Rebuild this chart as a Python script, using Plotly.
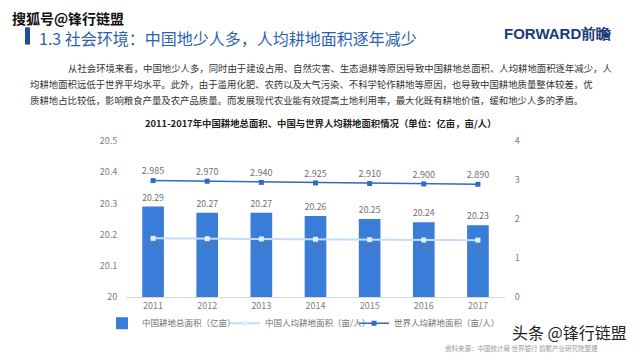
import plotly.graph_objects as go

years = ["2011", "2012", "2013", "2014", "2015", "2016", "2017"]
total_area = [20.29, 20.27, 20.27, 20.26, 20.25, 20.24, 20.23]
china_pc = [1.506, 1.497, 1.490, 1.482, 1.473, 1.463, 1.460]
world_pc = [2.985, 2.970, 2.940, 2.925, 2.910, 2.900, 2.890]

left_ticks = [20, 20.1, 20.2, 20.3, 20.4, 20.5]
right_ticks = [0, 1, 2, 3, 4]

FONT = "Noto Sans CJK SC"
BAR_C = "#3A7DD8"
WORLD_C = "#2E6BC4"
CHINA_C = "#C4DCF6"

fig = go.Figure()
fig.add_trace(go.Bar(
    x=years, y=total_area, name="中国耕地总面积（亿亩）",
    marker=dict(color=BAR_C, line=dict(width=0)), width=0.4,
    text=[f"{v:.2f}" for v in total_area], textposition="outside",
    textfont=dict(size=9, color="#707070", family=FONT), cliponaxis=False,
    legendwidth=78,
))
fig.add_trace(go.Scatter(
    x=years, y=china_pc, name="中国人均耕地面积（亩/人）", yaxis="y2",
    mode="lines+markers+text", line=dict(color=CHINA_C, width=2),
    marker=dict(symbol="square", size=5, color="#E4EFFB"),
    text=[f"{v:.3f}" for v in china_pc], textposition="bottom center",
    textfont=dict(size=8, color="#5A78AA", family=FONT), cliponaxis=False,
    legendwidth=84,
))
fig.add_trace(go.Scatter(
    x=years, y=world_pc, name="世界人均耕地面积（亩/人）", yaxis="y2",
    mode="lines+markers+text", line=dict(color=WORLD_C, width=1.5),
    marker=dict(symbol="square", size=5, color=WORLD_C),
    text=[f"{v:.3f}" for v in world_pc], textposition="top center",
    textfont=dict(size=9, color="#707070", family=FONT), cliponaxis=False,
))

fig.update_layout(
    width=640, height=360,
    margin=dict(l=0, r=0, t=0, b=0),
    paper_bgcolor="white", plot_bgcolor="white",
    font=dict(family=FONT, color="#555"),
    xaxis=dict(domain=[126/640, 505/640], showgrid=False, showline=True,
               linecolor="#D9D9D9", linewidth=1, ticks="",
               tickfont=dict(size=9, color="#808080")),
    yaxis=dict(domain=[(360-301)/360, (360-139)/360], range=[20, 20.5],
               tickvals=left_ticks, ticktext=[f"{v:g}" for v in left_ticks],
               showgrid=False, zeroline=False, ticks="outside", ticklen=6,
               tickcolor="rgba(0,0,0,0)", tickfont=dict(size=9, color="#808080")),
    yaxis2=dict(overlaying="y", side="right", range=[0, 4], tickvals=right_ticks,
                showgrid=False, zeroline=False, ticks="outside", ticklen=7,
                tickcolor="rgba(0,0,0,0)", tickfont=dict(size=9, color="#808080")),
    showlegend=True,
    legend=dict(orientation="h", x=102/640, xanchor="left", y=(360-328)/360,
                yanchor="middle", font=dict(size=8.5, color="#707070"),
                itemwidth=30, bgcolor="rgba(0,0,0,0)"),
)

anns = []
anns.append(dict(text="1.3 社会环境：中国地少人多，人均耕地面积逐年减少", x=37, y=32,
                 font=dict(size=16, color="#2B62B0", family=FONT)))
anns.append(dict(text="<b>FORWARD前瞻</b>", x=502, y=28,
                 font=dict(size=15, color="#1B3A7A", family="Liberation Sans")))
p1 = "从社会环境来看，中国地少人多，同时由于建设占用、自然灾害、生态退耕等原因导致中国耕地总面积、人均耕地面积逐年减少，人"
p2 = "均耕地面积远低于世界平均水平。此外，由于滥用化肥、农药以及大气污染、不科学轮作耕地等原因，也导致中国耕地质量整体较差，优"
p3 = "质耕地占比较低，影响粮食产量及农产品质量。而发展现代农业能有效提高土地利用率，最大化既有耕地价值，缓和地少人多的矛盾。"
anns.append(dict(text=p1, x=66, y=63, font=dict(size=9.4, color="#333", family=FONT)))
anns.append(dict(text=p2, x=28, y=80, font=dict(size=9.4, color="#333", family=FONT)))
anns.append(dict(text=p3, x=28, y=96, font=dict(size=9.4, color="#333", family=FONT)))
anns.append(dict(text="<b>2011-2017年中国耕地总面积、中国与世界人均耕地面积情况（单位：亿亩，亩/人）</b>",
                 x=143, y=120, font=dict(size=9.4, color="#222", family=FONT)))
anns.append(dict(text="资料来源：中国统计局 世界银行 前瞻产业研究院整理", x=443, y=354,
                 font=dict(size=6.5, color="#999", family=FONT)))
anns.append(dict(text="头条 @锋行链盟", x=510, y=337,
                 font=dict(size=16, color="#222", family=FONT, shadow="1px 1px 2px white")))
anns.append(dict(text="<b>搜狐号@锋行链盟</b>", x=10, y=11,
                 font=dict(size=14, color="#111", family=FONT, shadow="1px 1px 2px white")))

for a in anns:
    fig.add_annotation(xref="paper", yref="paper", x=a["x"]/640, y=1 - a["y"]/360,
                       xanchor="left", yanchor="middle", showarrow=False,
                       text=a["text"], font=a["font"])

fig.add_shape(type="rect", xref="paper", yref="paper", x0=25/640, x1=30/640,
              y0=1-39/360, y1=1-21/360, fillcolor="#1F4E9C", line=dict(width=0))

fig.write_html("out.html", config={"displayModeBar": False},
               post_script="document.body.style.margin='0';")
